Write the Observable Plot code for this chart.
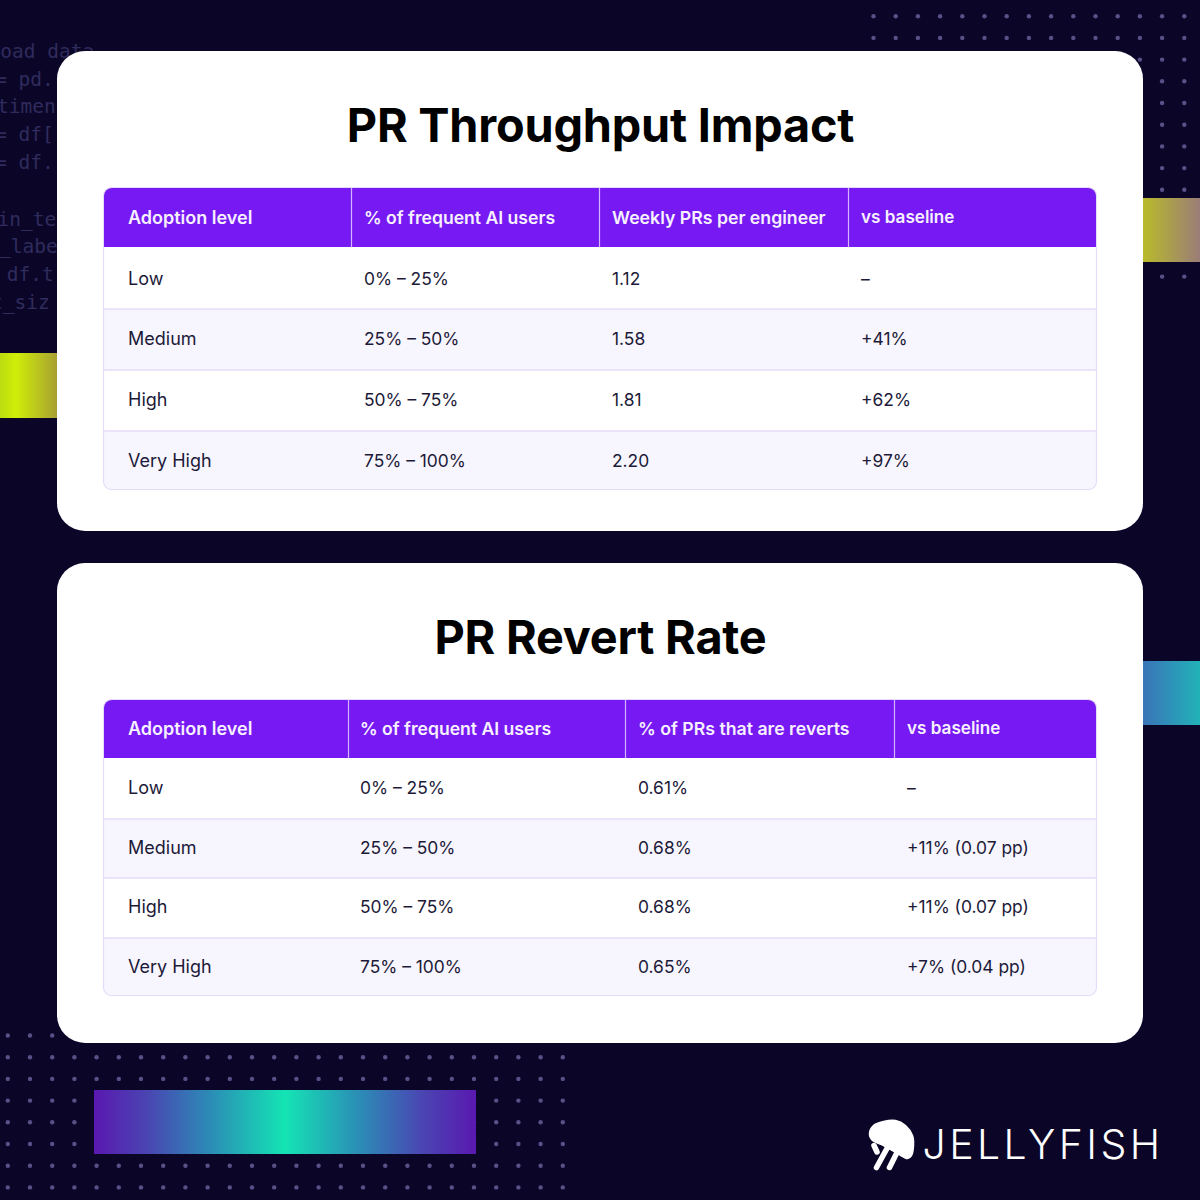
<!DOCTYPE html>
<html>
<head>
<meta charset="utf-8">
<script src="https://cdn.jsdelivr.net/npm/d3@7"></script>
<script src="https://cdn.jsdelivr.net/npm/@observablehq/plot@0.6"></script>
<style>
html,body{margin:0;padding:0;background:#0b0628}
svg{display:block}
.logo{letter-spacing:3.4px}
.ttl{letter-spacing:-0.2px}
</style>
</head>
<body>
<div id="chart"></div>
<script>
// ---- chart content ----
const adoptionLevels = ["Low", "Medium", "High", "Very High"];
const aiUserShares = ["0% – 25%", "25% – 50%", "50% – 75%", "75% – 100%"];
const weeklyPRs = ["1.12", "1.58", "1.81", "2.20"];
const throughputVsBaseline = ["–", "+41%", "+62%", "+97%"];
const revertRates = ["0.61%", "0.68%", "0.68%", "0.65%"];
const revertVsBaseline = ["–", "+11% (0.07 pp)", "+11% (0.07 pp)", "+7% (0.04 pp)"];
const throughputHeaders = ["Adoption level", "% of frequent AI users", "Weekly PRs per engineer", "vs baseline"];
const revertHeaders = ["Adoption level", "% of frequent AI users", "% of PRs that are reverts", "vs baseline"];
const titles = ["PR Throughput Impact", "PR Revert Rate"];
const codeLines = ["load data", "= pd.", "timen", "= df[", "= df.", "in_te", "_labe", " df.t", "t_siz"];

// ---- layout (separate from the content) ----
const BG = "#0b0628", SANS = "Inter, 'Noto Sans', sans-serif", INK = "#1c1a38", PURPLE = "#7719f3";
const headerSizes = [18, 17.6, 17.7, 17.1];
const codeLayout = {xs: [-12, -5.5, -3.5, -5.5, -5.5, -3, -1.5, -5.5, -9.5], ys: [51, 79, 106, 134, 162, 219, 246, 274, 302]};
const cards = [{y1: 51, y2: 531}, {y1: 563, y2: 1043}];
const tables = [
  {title: titles[0], titleY: 126, headers: throughputHeaders, cols: [aiUserShares, weeklyPRs, throughputVsBaseline],
   top: 188, head: 247, rowEdges: [248, 309, 370, 431, 489], seps: [351, 599, 848],
   textX: [127.5, 363.5, 611.5, 860.5], textY: [217, 279, 339, 400, 461], boldCell: "+62%"},
  {title: titles[1], titleY: 638, headers: revertHeaders, cols: [aiUserShares, revertRates, revertVsBaseline],
   top: 700, head: 758, rowEdges: [759, 819, 878, 938, 995], seps: [348, 625, 894],
   textX: [127.5, 359.5, 637.5, 906.5], textY: [728, 788, 848, 907, 967]}
];
const T_LEFT = 104, T_RIGHT = 1096;
const decoBars = [
  {x1: 1143, x2: 1200, y1: 198, y2: 262, fill: "url(#gOlive)"},
  {x1: 0, x2: 57, y1: 353, y2: 418, fill: "url(#gLime)"},
  {x1: 1143, x2: 1200, y1: 661, y2: 725, fill: "url(#gBlue)"},
  {x1: 94, x2: 476, y1: 1090, y2: 1154, fill: "url(#gTeal)"}
];
const grid = (xStart, nx, yStart, ny) => d3.cross(d3.range(nx), d3.range(ny), (i, j) => ({x: xStart + i * 22.2, y: yStart + j * 21.7}));
const dotsTopRight = grid(873, 15, 15.7, 13);
const dotsBottomLeft = grid(7.3, 26, 1035, 8);

const defs = () => d3.create("svg:defs").html(`
  <linearGradient id="gOlive" x1="0" x2="1"><stop offset="0" stop-color="#b9ba2a"/><stop offset="1" stop-color="#9a7d78"/></linearGradient>
  <linearGradient id="gLime" x1="0" x2="1"><stop offset="0" stop-color="#bcdc10"/><stop offset=".28" stop-color="#cfee08"/><stop offset="1" stop-color="#a8a032"/></linearGradient>
  <linearGradient id="gBlue" x1="0" x2="1"><stop offset="0" stop-color="#3a74b8"/><stop offset="1" stop-color="#22b2b8"/></linearGradient>
  <linearGradient id="gTeal" x1="0" x2="1"><stop offset="0" stop-color="#5a18b0"/><stop offset=".14" stop-color="#4a45b2"/><stop offset=".3" stop-color="#2c8ab6"/><stop offset=".5" stop-color="#14e4b4"/><stop offset=".7" stop-color="#2c8ab6"/><stop offset=".86" stop-color="#4a45b2"/><stop offset="1" stop-color="#5a18b0"/></linearGradient>
`).node();

function tableMarks(t) {
  const x1 = T_LEFT, x2 = T_RIGHT;
  const bottom = t.rowEdges[4];
  const marks = [];
  marks.push(Plot.text([t.title], {x: () => 600, y: () => t.titleY, dy: 0.7, text: d => d, fontFamily: SANS, fontWeight: 700, fontSize: 46.8, fill: "#000", textAnchor: "middle", lineAnchor: "middle", className: "ttl"}));
  marks.push(Plot.rect([0], {x1: () => x1, x2: () => x2, y1: () => t.top, y2: () => bottom, fill: "#fff", rx: 8}));
  marks.push(Plot.rect([0], {x1: () => x1, x2: () => x2, y1: () => t.rowEdges[1], y2: () => t.rowEdges[2], fill: "#f7f5fd"}));
  marks.push(Plot.rect([0], {x1: () => x1, x2: () => x2, y1: () => t.rowEdges[3], y2: () => bottom, fill: "#f7f5fd", rx: 8}));
  marks.push(Plot.rect([0], {x1: () => x1, x2: () => x2, y1: () => t.rowEdges[3], y2: () => bottom - 12, fill: "#f7f5fd"}));
  marks.push(Plot.rect([0], {x1: () => x1 - 0.5, x2: () => x2 + 0.5, y1: () => t.top - 0.5, y2: () => bottom + 0.5, fill: "none", stroke: "#e6dcf9", strokeWidth: 1.2, rx: 8}));
  marks.push(Plot.ruleY(t.rowEdges.slice(1, 4), {y: d => d - 0.5, x1: x1, x2: x2, stroke: "#e6dcf9", strokeWidth: 1.5}));
  marks.push(Plot.rect([0], {x1: () => x1, x2: () => x2, y1: () => t.top, y2: () => t.head, fill: PURPLE, rx: 8}));
  marks.push(Plot.rect([0], {x1: () => x1, x2: () => x2, y1: () => t.top + 12, y2: () => t.head, fill: PURPLE}));
  marks.push(Plot.ruleX(t.seps, {x: d => d, y1: t.top, y2: t.head, stroke: "#d2b4fc", strokeWidth: 1.2}));
  t.headers.forEach((h, i) => {
    marks.push(Plot.text([h], {x: () => t.textX[i], y: () => t.textY[0], dy: 0.5, text: d => d, fontFamily: SANS, fontWeight: 600, fontSize: headerSizes[i], fill: "#f6f0ff", textAnchor: "start", lineAnchor: "middle"}));
  });
  const columns = [adoptionLevels, ...t.cols];
  columns.forEach((col, c) => {
    marks.push(Plot.text(col, {x: () => t.textX[c], y: (d, i) => t.textY[i + 1], text: d => d, fontFamily: SANS, fontWeight: d => (d === t.boldCell ? 500 : 400), fontSize: c === 0 ? 18 : 17.4, fill: INK, textAnchor: "start", lineAnchor: "middle"}));
  });
  return marks;
}

const domePts = [[869,1133],[873,1125],[883,1121],[895,1120],[905,1125],[912,1135],[913,1145],[911,1155],[907,1158],[897,1153],[883,1145],[872,1140]];
const tentacles = [
  [[873.5,1145],[876.5,1151.5]],
  [[876,1167],[887,1147]],
  [[889,1167],[898,1149]]
];

const chart = Plot.plot({
  width: 1200, height: 1200, margin: 0,
  x: {domain: [0, 1200], range: [0, 1200], axis: null},
  y: {domain: [0, 1200], range: [0, 1200], axis: null},
  style: {background: BG},
  marks: [
    defs,
    Plot.dot(dotsTopRight, {x: "x", y: "y", r: 2.2, fill: "#5a5088"}),
    Plot.dot(dotsBottomLeft, {x: "x", y: "y", r: 2.2, fill: "#5a5088"}),
    Plot.text(codeLines, {x: (d, i) => codeLayout.xs[i], y: (d, i) => codeLayout.ys[i], text: d => d, fontFamily: "'DejaVu Sans Mono', monospace", fontSize: 19.5, fill: "#2f2b5c", textAnchor: "start", lineAnchor: "middle"}),
    ...decoBars.map(b => Plot.rect([b], {x1: "x1", x2: "x2", y1: "y1", y2: "y2", fill: b.fill})),
    ...cards.map(c => Plot.rect([c], {x1: () => 57, x2: () => 1143, y1: "y1", y2: "y2", fill: "#fff", rx: 28})),
    ...tables.flatMap(tableMarks),
    Plot.line(domePts, {x: d => d[0], y: d => d[1], curve: "catmull-rom-closed", fill: "#fff", stroke: "#fff"}),
    ...tentacles.map(s => Plot.line(s, {x: d => d[0], y: d => d[1], stroke: "#fff", strokeWidth: 5.5, strokeLinecap: "round"})),
    Plot.text(["JELLYFISH"], {x: () => 922, y: () => 1145, text: d => d, fontFamily: "Inter, sans-serif", fontWeight: 300, fontSize: 41, fill: "#fff", textAnchor: "start", lineAnchor: "middle", className: "logo"})
  ]
});
document.getElementById("chart").appendChild(chart);
</script>
</body>
</html>
